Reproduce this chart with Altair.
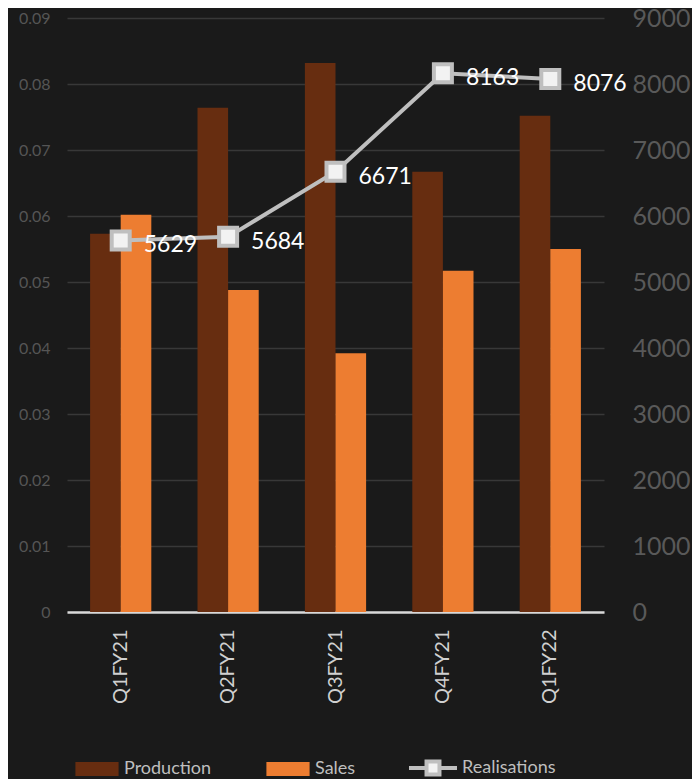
import altair as alt
import pandas as pd

quarters = ["Q1FY21", "Q2FY21", "Q3FY21", "Q4FY21", "Q1FY22"]
production = [0.0573, 0.0764, 0.0832, 0.0667, 0.0752]
sales = [0.0602, 0.0488, 0.0392, 0.0517, 0.0550]
realisations = [5629, 5684, 6671, 8163, 8076]
left_ticks = [0, 0.01, 0.02, 0.03, 0.04, 0.05, 0.06, 0.07, 0.08, 0.09]
right_ticks = [0, 1000, 2000, 3000, 4000, 5000, 6000, 7000, 8000, 9000]
bar_series = ["Production", "Sales"]
bar_colors = ["#672d10", "#ed7d31"]
line_series = ["Realisations"]
line_colors = ["#bfbfbf"]

FONT = "Lato"

bars_df = pd.DataFrame(
    {
        "quarter": quarters * 2,
        "series": ["Production"] * len(quarters) + ["Sales"] * len(quarters),
        "value": production + sales,
    }
)
line_df = pd.DataFrame(
    {"quarter": quarters, "real": realisations, "series": line_series * len(quarters)}
)

xenc = alt.X(
    "quarter:N",
    sort=quarters,
    scale=alt.Scale(paddingInner=0.43, paddingOuter=0.215),
    axis=alt.Axis(
        title=None,
        labelAngle=-90,
        labelFontSize=20,
        labelColor="#d0d0d0",
        labelFont=FONT,
        labelPadding=17,
        ticks=False,
        domainColor="#d9d9d9",
        domainWidth=2.5,
        grid=False,
    ),
)

bars = (
    alt.Chart(bars_df)
    .mark_bar()
    .encode(
        x=xenc,
        xOffset=alt.XOffset("series:N", sort=bar_series),
        y=alt.Y(
            "value:Q",
            scale=alt.Scale(domain=[0, 0.09], nice=False),
            axis=alt.Axis(
                title=None,
                values=left_ticks,
                format="~g",
                labelFontSize=16,
                labelColor="#555555",
                labelFont=FONT,
                labelPadding=17,
                ticks=False,
                domain=False,
                grid=True,
                gridColor="#383838",
                gridWidth=1.5,
            ),
        ),
        color=alt.Color(
            "series:N",
            scale=alt.Scale(domain=bar_series, range=bar_colors),
            legend=alt.Legend(
                title=None,
                orient="none",
                legendX=6,
                legendY=727,
                direction="horizontal",
                padding=0,
                symbolType="M-0.9,-0.29H0.9V0.29H-0.9Z",
                symbolSize=2304,
                symbolStrokeWidth=0,
                labelOffset=3,
                columnPadding=52,
                labelFontSize=18,
                labelColor="#bfbfbf",
                labelFont=FONT,
            ),
        ),
    )
)

yr = alt.Y(
    "real:Q",
    scale=alt.Scale(domain=[0, 9000], nice=False),
    axis=alt.Axis(
        orient="right",
        title=None,
        values=right_ticks,
        format="d",
        labelFontSize=25,
        labelColor="#595959",
        labelFont=FONT,
        labelPadding=28,
        ticks=False,
        domain=False,
        grid=False,
    ),
)

line = (
    alt.Chart(line_df)
    .mark_line(strokeWidth=4)
    .encode(
        x=alt.X("quarter:N", sort=quarters),
        y=yr,
        stroke=alt.Stroke(
            "series:N",
            scale=alt.Scale(domain=line_series, range=line_colors),
            legend=alt.Legend(
                title=None,
                orient="none",
                legendX=340,
                legendY=724,
                direction="horizontal",
                padding=0,
                symbolType="M-1,0H-0.27M0.27,0H1M-0.27,-0.27H0.27V0.27H-0.27Z",
                symbolSize=2304,
                symbolStrokeWidth=4,
                symbolFillColor="#f2f2f2",
                labelOffset=3,
                labelFontSize=18,
                labelColor="#bfbfbf",
                labelFont=FONT,
            ),
        ),
    )
)
points = (
    alt.Chart(line_df)
    .mark_point(shape="square", size=324, filled=False, fill="#f2f2f2", stroke="#bfbfbf",
                strokeWidth=4, opacity=1, fillOpacity=1)
    .encode(x=alt.X("quarter:N", sort=quarters), y=alt.Y("real:Q"))
)
labels = (
    alt.Chart(line_df)
    .mark_text(align="left", dx=23, dy=5, fontSize=23, color="#ffffff", font=FONT)
    .encode(x=alt.X("quarter:N", sort=quarters), y=alt.Y("real:Q"), text=alt.Text("real:Q", format="d"))
)

right_layer = alt.layer(line, points, labels)

chart = (
    alt.layer(bars, right_layer)
    .resolve_scale(y="independent")
    .properties(
        width=537,
        height=594,
        background="#1a1a1a",
        padding={"left": 59, "top": 10, "right": 88, "bottom": 167},
        autosize=alt.AutoSizeParams(type="none"),
    )
    .configure_view(stroke=None)
)

chart.save("out.html", embed_options={"renderer": "svg", "actions": False})
